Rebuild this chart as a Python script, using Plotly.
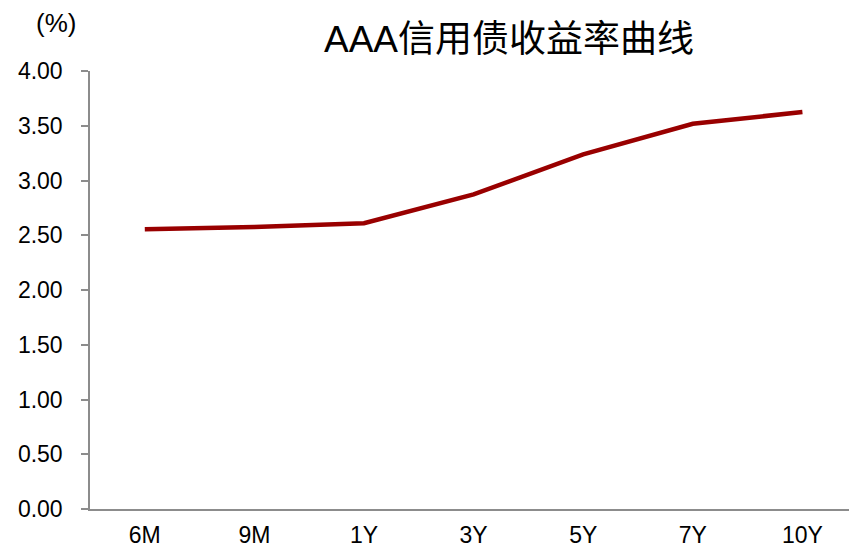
import plotly.graph_objects as go

# AAA credit bond yield curve by tenor
tenors = ["6M", "9M", "1Y", "3Y", "5Y", "7Y", "10Y"]
yields = [2.555, 2.575, 2.61, 2.873, 3.239, 3.518, 3.625]
y_ticks = [0, 0.5, 1.0, 1.5, 2.0, 2.5, 3.0, 3.5, 4.0]

FONT = "Arial, 'Liberation Sans', 'Noto Sans CJK SC', sans-serif"
W, H = 849, 548

fig = go.Figure()
fig.add_trace(go.Scatter(
    x=list(range(len(tenors))),
    y=yields,
    mode="lines",
    line=dict(color="#990000", width=4.5),
    hoverinfo="skip",
))

fig.update_layout(
    width=W, height=H,
    margin=dict(l=90, r=0, t=71, b=39, autoexpand=False),
    paper_bgcolor="white",
    plot_bgcolor="white",
    showlegend=False,
    font=dict(family=FONT, color="#000000", size=23),
    title=dict(
        text="AAA信用债收益率曲线",
        font=dict(family=FONT, size=37, color="#000000"),
        xref="container", yref="container",
        x=509 / W, y=1 - 39 / H,
        xanchor="center", yanchor="middle",
    ),
    annotations=[dict(
        text="(%)", xref="paper", yref="paper",
        x=-34 / 759, y=1 + 48 / 438,
        xanchor="center", yanchor="middle",
        showarrow=False, font=dict(family=FONT, size=26, color="#000000"),
    )],
)

fig.update_xaxes(
    tickmode="array",
    tickvals=list(range(len(tenors))),
    ticktext=tenors,
    range=[-0.5, 6.425],
    automargin=False,
    showgrid=False, zeroline=False,
    showline=True, linecolor="#8c8c8c", linewidth=1.5,
    ticks="", ticklabelstandoff=5,
    tickfont=dict(family=FONT, size=23, color="#000000"),
)

fig.update_yaxes(
    range=[0, 4],
    automargin=False,
    tickmode="array",
    tickvals=y_ticks,
    ticktext=[f"{v:.2f}" for v in y_ticks],
    showgrid=False, zeroline=False,
    showline=True, linecolor="#8c8c8c", linewidth=1.5,
    ticks="outside", ticklen=7, tickcolor="#8c8c8c", tickwidth=1.5,
    ticklabelstandoff=14,
    tickfont=dict(family=FONT, size=23, color="#000000"),
)

fig.write_html("out.html")
